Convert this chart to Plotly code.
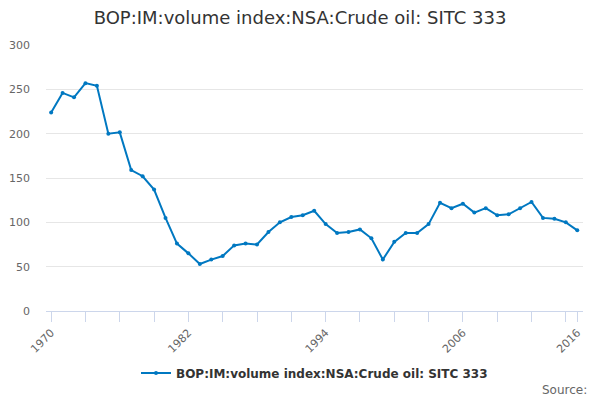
import plotly.graph_objects as go

# BOP imports, volume index, crude oil (SITC 333)
years = list(range(1970, 2017))
volume_index = [224, 246, 241, 257, 254, 200, 201.5, 159, 152, 137, 105, 76, 65, 53, 58, 62,
                74, 76, 75, 89, 100, 106, 108, 113, 98, 88, 89, 92, 82, 58, 78, 88, 88, 98,
                122, 116, 121, 111, 116, 108, 109, 116, 123, 105, 104, 100, 91]

series_name = "BOP:IM:volume index:NSA:Crude oil: SITC 333"
label_years = years[::12] + [years[-1]]
minor_years = [y for y in years[::3] if y not in label_years]

line_colour = "#0078c1"

fig = go.Figure()
fig.add_trace(go.Scatter(
    x=years, y=volume_index, name=series_name,
    mode="lines+markers",
    line=dict(color=line_colour, width=2),
    marker=dict(color=line_colour, size=4),
    showlegend=True,
))

fig.update_layout(
    width=600, height=400,
    paper_bgcolor="white", plot_bgcolor="white",
    font=dict(family="DejaVu Sans", color="#333333"),
    margin=dict(l=46, r=17, t=45, b=89, autoexpand=False),
    title=dict(text=series_name, x=0.5, xanchor="center", y=0.955, yanchor="middle",
               font=dict(size=18, color="#333333")),
    legend=dict(orientation="h", x=0.5, xanchor="center", y=-0.233, yanchor="middle",
                font=dict(size=12, color="#333333", weight="bold")),
    showlegend=True,
)

fig.update_xaxes(
    range=[1969.55, 2016.5],
    tickvals=label_years, ticktext=[str(y) for y in label_years],
    tickangle=-45, ticks="outside", ticklen=10, tickcolor="#ccd6eb",
    tickfont=dict(size=11, color="#666666"),
    showline=True, linecolor="#ccd6eb", linewidth=1,
    showgrid=False, zeroline=False, automargin=False,
    minor=dict(tickvals=minor_years, ticks="outside", ticklen=10, tickcolor="#ccd6eb", showgrid=False),
)

fig.update_yaxes(
    range=[0, 300], dtick=50,
    showgrid=True, gridcolor="#e6e6e6", gridwidth=1,
    zeroline=False, showline=False, automargin=False,
    tickfont=dict(size=11, color="#666666"),
    ticks="", ticklabelstandoff=15,
)

fig.add_annotation(text="Source:", xref="paper", yref="paper", x=1.011, y=-0.297,
                   xanchor="right", yanchor="middle", showarrow=False,
                   font=dict(size=12, color="#666666"))

# page has a default 8px body margin, drop it so the chart sits at 0,0
fig.write_html("out.html", config={"displayModeBar": False},
               post_script="document.body.style.margin='0';")
